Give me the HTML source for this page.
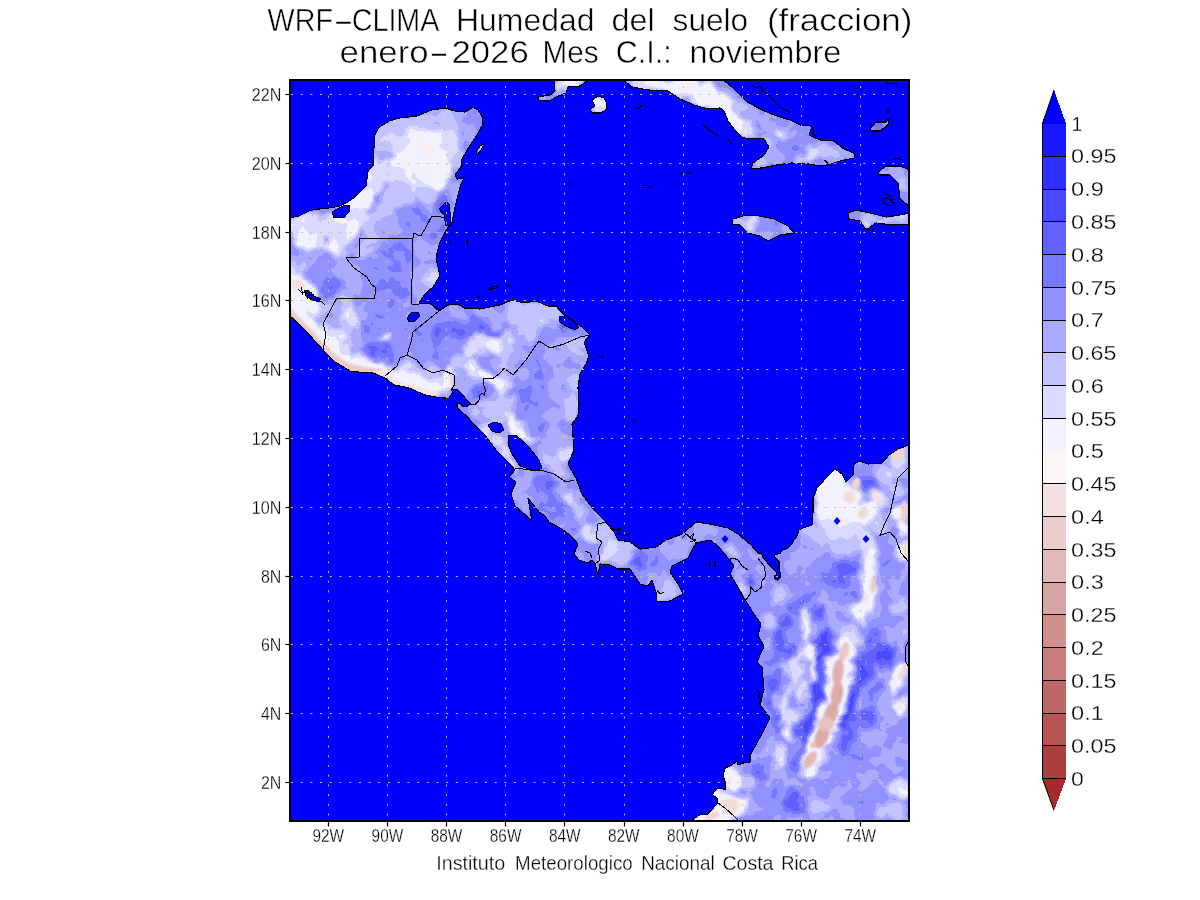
<!DOCTYPE html>
<html lang="es"><head><meta charset="utf-8"><title>WRF-CLIMA Humedad del suelo</title>
<style>
html,body{margin:0;padding:0;background:#fff;}
body{width:1200px;height:900px;overflow:hidden;position:relative;font-family:"Liberation Sans","DejaVu Sans",sans-serif;}
svg{position:absolute;left:0;top:0;display:block}
text{font-family:"Liberation Sans","DejaVu Sans",sans-serif;fill:#000;stroke:#fff;paint-order:fill stroke;}
.t1{font-size:32px;stroke-width:.5px}
.lab{font-size:18.2px;stroke-width:.28px}
.cb{font-size:19.5px;stroke-width:.3px}
.ft{font-size:19.3px;stroke-width:.3px}
</style></head><body>
<svg width="1200" height="900" viewBox="0 0 1200 900">
<defs>
<clipPath id="frame"><rect x="290" y="80" width="619" height="741"/></clipPath>
<clipPath id="land">
<polygon points="289,218 299,216 309,211 315,209.4 329,208 340,206 351,200 359,193 366,186 368,171 373,166 374.6,135 379,127.4 389,121 399,118 417,116 431,110 445,108 455,111 465,112 473,107.4 478,110 482,116 483,124 477,135 469,147 462,159 461,167 455,175 457,179 464,178 461,184 458,195 455,207 452,223 447,229 443,236 439,245 436,258 440,276 433,287 425,294 419,303 431,304 439,311 448,305 458,304 464,308 480,309 500,305 512,300 524,303 536,301 548,306 556,306 564,315 576,323 582,327 590,335 584,342 589,356 586,364 580,374 578,388 579,404 578,416 572,424 573,436 574,450 568,464 576,478 582,494 594,510 606,522 614,532 618,540 630,542 640,549 656,547 666,540 682,534 688,529 696,522 710,524 728,528 738,534 750,544 758.7,553.3 761.3,553 763.3,558 769.3,564.7 774.7,570 776.3,572.7 776.3,575.3 774.7,576 774.7,578.7 777.3,580 780,577.3 780.3,573.3 779,568.7 779,561.3 774.7,557.3 774.7,555 780,553.3 782.7,550 786.7,548.7 792,544 794,539.3 796.7,536.7 799,530 803,528 812,525 813,512 813,499 817,488 826,478 835,469 842,474 846,482 853,475 854,464 860,461 868,464 882,463 889,455 898,449 910,444.5 910,822 689,822 700,814.6 707.5,814 718,803 717,798 712,794.6 716.7,788.75 725.4,789 725.4,783 723,775 725.4,768 731,765.4 737.5,761 738,765 745,762.5 750,762 750,755 753,750 763,732 770,718 759.5,704 764,690 762,667 757,662 764,646 758,636 761,624 754,614 744,598 736,584 730,574 734,566 728,558 718,546 710,540 696,543 688,558 672,566 670,572 678,584 683,594 670,601 657,602 656,592 652,580 648,586 640,584 636,578 630,569 618,569 610,565 600,564 598,575 595,564 592,560 588,563 579,560 574,554 578,544 570,535 560,528 549,522 545,516 539,512 528,498 532,521 522,512 515,506 511,494 516,482 509,477 515,470 510,464 496,450 484,434 479.3,429.3 472.7,423.3 467.3,416.7 458,408.7 456.7,404.7 459.3,402.7 463.3,406.7 468,406 470,403.3 466,399.3 462,394 456.7,389.3 451.5,389.5 452.7,392.7 448.7,398.3 436.7,397.3 430,396 425,395 409,388 394,385 385,378 373,373 351,371.6 335,362 323,350 305,330 289,315"/>
<polygon points="622,79 722,79 732,87 746,101 760,109 774,115 790,120 800,125 812,126 809,135 820,140 834,141 844,149 854,153 855,158 840,161 828,165 820,166 808,164 792,163 776,165 762,168 751,168.6 753,163 764,155 769,147 764,139 743,138 734,129 728,121 724,111 720,108 708,109 694,105 680,99 668,91 648,90 632,87"/>
<polygon points="554,79 555,91 550,95 538,97 538,100 550,101 556,97 566,93 568,87 580,86 590,79"/>
<polygon points="592,100 598,96 604,98 607,104 606,110 600,113 592,113 590,109 595,106"/>
<polygon points="733,219 746,215 760,216 774,219 788,226 794,233 780,235 768,241 760,236 748,233 740,225 732,224"/>
<polygon points="877,173 886,166 900,166 910,170 910,207 900,199 898,183 890,175 880,175"/>
<polygon points="848,213 856,210 870,213 886,217 900,215 910,213 910,224 892,225 876,223 866,230 860,221 849,219"/>
<polygon points="870,129 876,122 886,122 889,118 888,125 880,131 872,131"/>
<polygon points="476,152 480,146 484,144 481,150 478,154"/>
</clipPath>
<filter id="b1" x="-20%" y="-20%" width="140%" height="140%"><feGaussianBlur stdDeviation="1.1"/></filter>
<filter id="post" filterUnits="userSpaceOnUse" x="280" y="70" width="640" height="760" color-interpolation-filters="sRGB"><feGaussianBlur in="SourceGraphic" stdDeviation="2.4" result="bl"/><feTurbulence type="fractalNoise" baseFrequency="0.045" numOctaves="3" seed="11" result="n"/><feDisplacementMap in="bl" in2="n" scale="14" xChannelSelector="R" yChannelSelector="G" result="d"/><feTurbulence type="fractalNoise" baseFrequency="0.075" numOctaves="2" seed="3" result="n2"/><feColorMatrix in="n2" type="matrix" values="1 0 0 0 0  1 0 0 0 0  0 0 0 0 0.5  0 0 0 0 1" result="n3"/><feComposite in="d" in2="n3" operator="arithmetic" k1="0" k2="1" k3="0.17" k4="-0.085" result="dn"/><feComponentTransfer in="dn" result="ct"><feFuncR type="linear" slope="1.18" intercept="-0.135"/><feFuncG type="linear" slope="1.18" intercept="-0.135"/></feComponentTransfer><feComponentTransfer in="ct"><feFuncR type="discrete" tableValues="0.0000 0.0941 0.0941 0.1922 0.1922 0.2863 0.2863 0.3804 0.3804 0.4745 0.4745 0.5725 0.5725 0.6667 0.6667 0.7608 0.7608 0.8588 0.8588 0.9529 0.9529"/><feFuncG type="discrete" tableValues="0.0000 0.0941 0.0941 0.1922 0.1922 0.2863 0.2863 0.3804 0.3804 0.4745 0.4745 0.5725 0.5725 0.6667 0.6667 0.7608 0.7608 0.8588 0.8588 0.9529 0.9529"/></feComponentTransfer></filter>
</defs>
<rect x="290" y="80" width="619" height="741" fill="#0000ff"/>
<g clip-path="url(#frame)">
<g clip-path="url(#land)">
<g filter="url(#post)">
<rect x="280" y="70" width="640" height="760" fill="rgb(158,158,255)"/>
<ellipse cx="423" cy="155" rx="29" ry="40.6" fill="rgb(243,243,255)"/>
<ellipse cx="408" cy="140" rx="14.5" ry="14.5" fill="rgb(243,243,255)"/>
<ellipse cx="435" cy="175" rx="14.5" ry="14.5" fill="rgb(243,243,255)"/>
<ellipse cx="397" cy="140" rx="14.5" ry="14.5" fill="rgb(219,219,255)"/>
<ellipse cx="379" cy="135" rx="8.7" ry="20.3" fill="rgb(194,194,255)"/>
<ellipse cx="373" cy="175" rx="8.7" ry="20.3" fill="rgb(219,219,255)"/>
<ellipse cx="361" cy="199" rx="11.6" ry="11.6" fill="rgb(243,243,255)"/>
<ellipse cx="352" cy="203" rx="8.7" ry="8.7" fill="rgb(243,243,255)"/>
<ellipse cx="405" cy="185" rx="17.4" ry="17.4" fill="rgb(219,219,255)"/>
<ellipse cx="392" cy="170" rx="14.5" ry="14.5" fill="rgb(219,219,255)"/>
<ellipse cx="465" cy="125" rx="11.6" ry="17.4" fill="rgb(170,170,255)"/>
<ellipse cx="474" cy="119" rx="8.7" ry="8.7" fill="rgb(146,146,255)"/>
<ellipse cx="449" cy="141" rx="11.6" ry="11.6" fill="rgb(219,219,255)"/>
<ellipse cx="455" cy="159" rx="10.15" ry="10.15" fill="rgb(194,194,255)"/>
<ellipse cx="447" cy="120" rx="11.6" ry="11.6" fill="rgb(194,194,255)"/>
<ellipse cx="425" cy="122" rx="14.5" ry="8.7" fill="rgb(194,194,255)"/>
<ellipse cx="400" cy="125" rx="11.6" ry="11.6" fill="rgb(194,194,255)"/>
<ellipse cx="425" cy="199" rx="14.5" ry="14.5" fill="rgb(194,194,255)"/>
<ellipse cx="397" cy="195" rx="14.5" ry="14.5" fill="rgb(194,194,255)"/>
<ellipse cx="389" cy="211" rx="11.6" ry="11.6" fill="rgb(194,194,255)"/>
<ellipse cx="413" cy="215" rx="13.05" ry="13.05" fill="rgb(146,146,255)"/>
<ellipse cx="425" cy="221" rx="13.05" ry="13.05" fill="rgb(146,146,255)"/>
<ellipse cx="441" cy="205" rx="8.7" ry="8.7" fill="rgb(121,121,255)"/>
<ellipse cx="436" cy="228" rx="10.15" ry="10.15" fill="rgb(146,146,255)"/>
<ellipse cx="452" cy="215" rx="5.8" ry="14.5" fill="rgb(170,170,255)"/>
<ellipse cx="456" cy="190" rx="5.8" ry="14.5" fill="rgb(170,170,255)"/>
<ellipse cx="305" cy="227" rx="14.5" ry="14.5" fill="rgb(219,219,255)"/>
<ellipse cx="296" cy="225" rx="7.25" ry="7.25" fill="rgb(243,243,255)"/>
<ellipse cx="325" cy="241" rx="10.15" ry="10.15" fill="rgb(146,146,255)"/>
<ellipse cx="345" cy="228" rx="13.05" ry="13.05" fill="rgb(243,243,255)"/>
<ellipse cx="333" cy="222" rx="8.7" ry="8.7" fill="rgb(219,219,255)"/>
<ellipse cx="373" cy="227" rx="14.5" ry="14.5" fill="rgb(194,194,255)"/>
<ellipse cx="358" cy="218" rx="11.6" ry="11.6" fill="rgb(219,219,255)"/>
<ellipse cx="335" cy="247" rx="8.7" ry="8.7" fill="rgb(219,219,255)"/>
<ellipse cx="388" cy="230" rx="11.6" ry="11.6" fill="rgb(170,170,255)"/>
<ellipse cx="301" cy="238" rx="8.7" ry="8.7" fill="rgb(243,243,255)"/>
<ellipse cx="339" cy="250" rx="8.7" ry="8.7" fill="rgb(219,219,255)"/>
<ellipse cx="311" cy="262" rx="13.05" ry="13.05" fill="rgb(170,170,255)"/>
<ellipse cx="331" cy="284" rx="13.05" ry="13.05" fill="rgb(121,121,255)"/>
<ellipse cx="321" cy="274" rx="11.6" ry="11.6" fill="rgb(146,146,255)"/>
<ellipse cx="297" cy="268" rx="10.15" ry="10.15" fill="rgb(194,194,255)"/>
<ellipse cx="346" cy="270" rx="11.6" ry="11.6" fill="rgb(170,170,255)"/>
<ellipse cx="352" cy="285" rx="11.6" ry="11.6" fill="rgb(170,170,255)"/>
<ellipse cx="299" cy="288" rx="13.05" ry="20.3" fill="rgb(243,243,255)" transform="rotate(-40 299 288)"/>
<ellipse cx="310" cy="305" rx="10.15" ry="10.15" fill="rgb(243,243,255)"/>
<ellipse cx="296" cy="300" rx="8.7" ry="8.7" fill="rgb(243,243,255)"/>
<ellipse cx="325" cy="310" rx="10.15" ry="10.15" fill="rgb(194,194,255)"/>
<ellipse cx="310" cy="232" rx="18.85" ry="18.85" fill="rgb(219,219,255)"/>
<ellipse cx="328" cy="236" rx="15.95" ry="15.95" fill="rgb(219,219,255)"/>
<ellipse cx="344" cy="232" rx="13.05" ry="13.05" fill="rgb(219,219,255)"/>
<ellipse cx="300" cy="238" rx="7.25" ry="7.25" fill="rgb(243,243,255)"/>
<ellipse cx="333" cy="246" rx="5.8" ry="5.8" fill="rgb(243,243,255)"/>
<ellipse cx="352" cy="229" rx="7.25" ry="7.25" fill="rgb(243,243,255)"/>
<ellipse cx="324" cy="241" rx="3.625" ry="3.625" fill="rgb(170,170,255)"/>
<ellipse cx="302" cy="296" rx="14.5" ry="24.65" fill="rgb(243,243,255)" transform="rotate(-35 302 296)"/>
<ellipse cx="297" cy="312" rx="10.15" ry="10.15" fill="rgb(243,243,255)"/>
<ellipse cx="306" cy="318" rx="7.25" ry="7.25" fill="rgb(219,219,255)"/>
<ellipse cx="369" cy="250" rx="10.15" ry="10.15" fill="rgb(194,194,255)"/>
<ellipse cx="393" cy="260" rx="13.05" ry="13.05" fill="rgb(121,121,255)"/>
<ellipse cx="397" cy="286" rx="11.6" ry="11.6" fill="rgb(121,121,255)"/>
<ellipse cx="381" cy="270" rx="13.05" ry="13.05" fill="rgb(146,146,255)"/>
<ellipse cx="404" cy="250" rx="11.6" ry="11.6" fill="rgb(146,146,255)"/>
<ellipse cx="385" cy="292" rx="11.6" ry="11.6" fill="rgb(146,146,255)"/>
<ellipse cx="405" cy="275" rx="11.6" ry="11.6" fill="rgb(146,146,255)"/>
<ellipse cx="425" cy="250" rx="11.6" ry="11.6" fill="rgb(170,170,255)"/>
<ellipse cx="431" cy="280" rx="7.25" ry="13.05" fill="rgb(219,219,255)"/>
<ellipse cx="422" cy="270" rx="10.15" ry="10.15" fill="rgb(170,170,255)"/>
<ellipse cx="430" cy="232" rx="8.7" ry="8.7" fill="rgb(146,146,255)"/>
<ellipse cx="420" cy="290" rx="8.7" ry="8.7" fill="rgb(170,170,255)"/>
<ellipse cx="345" cy="306" rx="10.15" ry="10.15" fill="rgb(194,194,255)"/>
<ellipse cx="351" cy="322" rx="11.6" ry="11.6" fill="rgb(219,219,255)"/>
<ellipse cx="375" cy="324" rx="13.05" ry="13.05" fill="rgb(146,146,255)"/>
<ellipse cx="381" cy="306" rx="11.6" ry="11.6" fill="rgb(146,146,255)"/>
<ellipse cx="365" cy="312" rx="10.15" ry="10.15" fill="rgb(170,170,255)"/>
<ellipse cx="373" cy="350" rx="13.05" ry="8.7" fill="rgb(121,121,255)"/>
<ellipse cx="385" cy="352" rx="10.15" ry="10.15" fill="rgb(121,121,255)"/>
<ellipse cx="385" cy="339" rx="5.8" ry="5.8" fill="rgb(219,219,255)"/>
<ellipse cx="345" cy="342" rx="11.6" ry="11.6" fill="rgb(194,194,255)"/>
<ellipse cx="358" cy="338" rx="10.15" ry="10.15" fill="rgb(170,170,255)"/>
<ellipse cx="331" cy="318" rx="8.7" ry="8.7" fill="rgb(170,170,255)"/>
<ellipse cx="335" cy="336" rx="7.25" ry="7.25" fill="rgb(219,219,255)"/>
<ellipse cx="397" cy="324" rx="11.6" ry="11.6" fill="rgb(146,146,255)"/>
<ellipse cx="405" cy="314" rx="8.7" ry="8.7" fill="rgb(170,170,255)"/>
<ellipse cx="398" cy="345" rx="8.7" ry="8.7" fill="rgb(146,146,255)"/>
<ellipse cx="360" cy="360" rx="8.7" ry="8.7" fill="rgb(194,194,255)"/>
<ellipse cx="325" cy="330" rx="7.25" ry="7.25" fill="rgb(219,219,255)"/>
<ellipse cx="312" cy="318" rx="7.25" ry="7.25" fill="rgb(219,219,255)"/>
<ellipse cx="405" cy="368" rx="8.7" ry="8.7" fill="rgb(219,219,255)"/>
<ellipse cx="425" cy="382" rx="11.6" ry="11.6" fill="rgb(219,219,255)"/>
<ellipse cx="413" cy="374" rx="8.7" ry="8.7" fill="rgb(194,194,255)"/>
<ellipse cx="440" cy="384" rx="8.7" ry="8.7" fill="rgb(219,219,255)"/>
<ellipse cx="449" cy="380" rx="7.25" ry="11.6" fill="rgb(243,243,255)"/>
<ellipse cx="430" cy="372" rx="7.25" ry="7.25" fill="rgb(194,194,255)"/>
<ellipse cx="395" cy="374" rx="5.8" ry="5.8" fill="rgb(219,219,255)"/>
<ellipse cx="425" cy="326" rx="11.6" ry="11.6" fill="rgb(146,146,255)"/>
<ellipse cx="441" cy="334" rx="11.6" ry="11.6" fill="rgb(121,121,255)"/>
<ellipse cx="457" cy="326" rx="11.6" ry="11.6" fill="rgb(121,121,255)"/>
<ellipse cx="472" cy="328" rx="11.6" ry="11.6" fill="rgb(121,121,255)"/>
<ellipse cx="488" cy="329" rx="11.6" ry="11.6" fill="rgb(121,121,255)"/>
<ellipse cx="465" cy="314" rx="8.7" ry="8.7" fill="rgb(170,170,255)"/>
<ellipse cx="485" cy="312" rx="8.7" ry="8.7" fill="rgb(170,170,255)"/>
<ellipse cx="450" cy="312" rx="7.25" ry="7.25" fill="rgb(170,170,255)"/>
<ellipse cx="437" cy="354" rx="11.6" ry="11.6" fill="rgb(146,146,255)"/>
<ellipse cx="465" cy="356" rx="8.7" ry="8.7" fill="rgb(146,146,255)"/>
<ellipse cx="452" cy="346" rx="10.15" ry="10.15" fill="rgb(146,146,255)"/>
<ellipse cx="456" cy="362" rx="8.7" ry="8.7" fill="rgb(194,194,255)"/>
<ellipse cx="480" cy="344" rx="13.05" ry="8.7" fill="rgb(219,219,255)"/>
<ellipse cx="496" cy="346" rx="8.7" ry="8.7" fill="rgb(243,243,255)"/>
<ellipse cx="470" cy="352" rx="8.7" ry="8.7" fill="rgb(219,219,255)"/>
<ellipse cx="506" cy="358" rx="10.15" ry="10.15" fill="rgb(194,194,255)"/>
<ellipse cx="505" cy="340" rx="10.15" ry="10.15" fill="rgb(194,194,255)"/>
<ellipse cx="495" cy="320" rx="10.15" ry="10.15" fill="rgb(170,170,255)"/>
<ellipse cx="515" cy="314" rx="11.6" ry="11.6" fill="rgb(194,194,255)"/>
<ellipse cx="530" cy="316" rx="14.5" ry="14.5" fill="rgb(194,194,255)"/>
<ellipse cx="545" cy="322" rx="11.6" ry="11.6" fill="rgb(194,194,255)"/>
<ellipse cx="552" cy="312" rx="8.7" ry="8.7" fill="rgb(194,194,255)"/>
<ellipse cx="530" cy="330" rx="11.6" ry="11.6" fill="rgb(194,194,255)"/>
<ellipse cx="544" cy="333" rx="7.25" ry="7.25" fill="rgb(146,146,255)"/>
<ellipse cx="564" cy="322" rx="7.25" ry="7.25" fill="rgb(121,121,255)"/>
<ellipse cx="574" cy="330" rx="7.25" ry="7.25" fill="rgb(146,146,255)"/>
<ellipse cx="473" cy="370" rx="8.7" ry="8.7" fill="rgb(219,219,255)"/>
<ellipse cx="485" cy="375" rx="5.8" ry="5.8" fill="rgb(243,243,255)"/>
<ellipse cx="470" cy="385" rx="8.7" ry="8.7" fill="rgb(170,170,255)"/>
<ellipse cx="505" cy="378" rx="8.7" ry="8.7" fill="rgb(194,194,255)"/>
<ellipse cx="520" cy="352" rx="10.15" ry="10.15" fill="rgb(170,170,255)"/>
<ellipse cx="515" cy="366" rx="7.25" ry="7.25" fill="rgb(170,170,255)"/>
<ellipse cx="550" cy="360" rx="14.5" ry="14.5" fill="rgb(170,170,255)"/>
<ellipse cx="566" cy="352" rx="11.6" ry="11.6" fill="rgb(170,170,255)"/>
<ellipse cx="580" cy="348" rx="8.7" ry="8.7" fill="rgb(194,194,255)"/>
<ellipse cx="532" cy="382" rx="20.3" ry="26.1" fill="rgb(146,146,255)"/>
<ellipse cx="545" cy="392" rx="11.6" ry="11.6" fill="rgb(146,146,255)"/>
<ellipse cx="520" cy="375" rx="8.7" ry="8.7" fill="rgb(170,170,255)"/>
<ellipse cx="564" cy="372" rx="11.6" ry="11.6" fill="rgb(170,170,255)"/>
<ellipse cx="574" cy="385" rx="7.25" ry="14.5" fill="rgb(194,194,255)"/>
<ellipse cx="560" cy="392" rx="11.6" ry="11.6" fill="rgb(170,170,255)"/>
<ellipse cx="570" cy="406" rx="8.7" ry="17.4" fill="rgb(194,194,255)"/>
<ellipse cx="552" cy="420" rx="13.05" ry="13.05" fill="rgb(170,170,255)"/>
<ellipse cx="526" cy="408" rx="11.6" ry="11.6" fill="rgb(146,146,255)"/>
<ellipse cx="544" cy="428" rx="8.7" ry="8.7" fill="rgb(146,146,255)"/>
<ellipse cx="566" cy="430" rx="8.7" ry="8.7" fill="rgb(146,146,255)"/>
<ellipse cx="560" cy="445" rx="11.6" ry="11.6" fill="rgb(170,170,255)"/>
<ellipse cx="570" cy="455" rx="8.7" ry="8.7" fill="rgb(170,170,255)"/>
<ellipse cx="500" cy="384" rx="8.7" ry="8.7" fill="rgb(219,219,255)"/>
<ellipse cx="492" cy="380" rx="5.8" ry="5.8" fill="rgb(243,243,255)"/>
<ellipse cx="476" cy="393" rx="7.25" ry="7.25" fill="rgb(121,121,255)"/>
<ellipse cx="506" cy="404" rx="10.15" ry="10.15" fill="rgb(194,194,255)"/>
<ellipse cx="490" cy="408" rx="10.15" ry="10.15" fill="rgb(194,194,255)"/>
<ellipse cx="478" cy="410" rx="7.25" ry="7.25" fill="rgb(194,194,255)"/>
<ellipse cx="520" cy="428" rx="5.8" ry="20.3" fill="rgb(243,243,255)" transform="rotate(-48 520 428)"/>
<ellipse cx="512" cy="421" rx="5.8" ry="5.8" fill="rgb(243,243,255)"/>
<ellipse cx="530" cy="435" rx="5.8" ry="5.8" fill="rgb(243,243,255)"/>
<ellipse cx="486" cy="430" rx="7.25" ry="7.25" fill="rgb(219,219,255)"/>
<ellipse cx="498" cy="420" rx="7.25" ry="7.25" fill="rgb(194,194,255)"/>
<ellipse cx="536" cy="430" rx="8.7" ry="8.7" fill="rgb(146,146,255)"/>
<ellipse cx="554" cy="436" rx="8.7" ry="8.7" fill="rgb(170,170,255)"/>
<ellipse cx="564" cy="452" rx="8.7" ry="8.7" fill="rgb(219,219,255)"/>
<ellipse cx="550" cy="456" rx="10.15" ry="10.15" fill="rgb(194,194,255)"/>
<ellipse cx="558" cy="470" rx="8.7" ry="8.7" fill="rgb(194,194,255)"/>
<ellipse cx="545" cy="445" rx="8.7" ry="8.7" fill="rgb(170,170,255)"/>
<ellipse cx="496" cy="442" rx="7.25" ry="7.25" fill="rgb(219,219,255)"/>
<ellipse cx="504" cy="454" rx="7.25" ry="7.25" fill="rgb(219,219,255)"/>
<ellipse cx="512" cy="466" rx="5.8" ry="5.8" fill="rgb(219,219,255)"/>
<ellipse cx="526" cy="480" rx="10.15" ry="10.15" fill="rgb(170,170,255)"/>
<ellipse cx="546" cy="484" rx="10.15" ry="10.15" fill="rgb(121,121,255)"/>
<ellipse cx="520" cy="496" rx="8.7" ry="8.7" fill="rgb(170,170,255)"/>
<ellipse cx="516" cy="488" rx="7.25" ry="7.25" fill="rgb(170,170,255)"/>
<ellipse cx="558" cy="502" rx="10.15" ry="10.15" fill="rgb(121,121,255)"/>
<ellipse cx="570" cy="500" rx="7.25" ry="7.25" fill="rgb(219,219,255)"/>
<ellipse cx="580" cy="512" rx="7.25" ry="7.25" fill="rgb(194,194,255)"/>
<ellipse cx="570" cy="524" rx="8.7" ry="8.7" fill="rgb(146,146,255)"/>
<ellipse cx="556" cy="515" rx="8.7" ry="8.7" fill="rgb(146,146,255)"/>
<ellipse cx="536" cy="492" rx="8.7" ry="8.7" fill="rgb(146,146,255)"/>
<ellipse cx="590" cy="532" rx="8.7" ry="8.7" fill="rgb(219,219,255)"/>
<ellipse cx="582" cy="544" rx="7.25" ry="7.25" fill="rgb(146,146,255)"/>
<ellipse cx="524" cy="508" rx="7.25" ry="7.25" fill="rgb(170,170,255)"/>
<ellipse cx="562" cy="490" rx="8.7" ry="8.7" fill="rgb(170,170,255)"/>
<ellipse cx="545" cy="505" rx="8.7" ry="8.7" fill="rgb(146,146,255)"/>
<ellipse cx="580" cy="555" rx="5.8" ry="5.8" fill="rgb(170,170,255)"/>
<ellipse cx="600" cy="528" rx="7.25" ry="7.25" fill="rgb(194,194,255)"/>
<ellipse cx="606" cy="534" rx="8.7" ry="8.7" fill="rgb(194,194,255)"/>
<ellipse cx="610" cy="550" rx="8.7" ry="8.7" fill="rgb(219,219,255)"/>
<ellipse cx="606" cy="558" rx="5.8" ry="5.8" fill="rgb(219,219,255)"/>
<ellipse cx="626" cy="552" rx="10.15" ry="10.15" fill="rgb(194,194,255)"/>
<ellipse cx="618" cy="560" rx="7.25" ry="7.25" fill="rgb(194,194,255)"/>
<ellipse cx="642" cy="560" rx="11.6" ry="8.7" fill="rgb(121,121,255)"/>
<ellipse cx="655" cy="562" rx="10.15" ry="10.15" fill="rgb(146,146,255)"/>
<ellipse cx="670" cy="550" rx="11.6" ry="11.6" fill="rgb(170,170,255)"/>
<ellipse cx="658" cy="576" rx="8.7" ry="8.7" fill="rgb(170,170,255)"/>
<ellipse cx="670" cy="590" rx="10.15" ry="10.15" fill="rgb(194,194,255)"/>
<ellipse cx="660" cy="596" rx="7.25" ry="7.25" fill="rgb(194,194,255)"/>
<ellipse cx="680" cy="580" rx="7.25" ry="7.25" fill="rgb(170,170,255)"/>
<ellipse cx="684" cy="545" rx="7.25" ry="7.25" fill="rgb(170,170,255)"/>
<ellipse cx="700" cy="532" rx="8.7" ry="8.7" fill="rgb(170,170,255)"/>
<ellipse cx="712" cy="532" rx="7.25" ry="7.25" fill="rgb(170,170,255)"/>
<ellipse cx="722" cy="538" rx="5.8" ry="5.8" fill="rgb(146,146,255)"/>
<ellipse cx="734" cy="550" rx="7.25" ry="7.25" fill="rgb(194,194,255)"/>
<ellipse cx="746" cy="566" rx="8.7" ry="8.7" fill="rgb(146,146,255)"/>
<ellipse cx="750" cy="580" rx="5.8" ry="5.8" fill="rgb(121,121,255)"/>
<ellipse cx="742" cy="588" rx="7.25" ry="7.25" fill="rgb(194,194,255)"/>
<ellipse cx="758" cy="572" rx="7.25" ry="7.25" fill="rgb(170,170,255)"/>
<ellipse cx="740" cy="575" rx="7.25" ry="7.25" fill="rgb(170,170,255)"/>
<ellipse cx="831" cy="490" rx="17.4" ry="17.4" fill="rgb(243,243,255)"/>
<ellipse cx="826" cy="513" rx="13.05" ry="13.05" fill="rgb(243,243,255)"/>
<ellipse cx="845" cy="520" rx="14.5" ry="14.5" fill="rgb(243,243,255)"/>
<ellipse cx="852" cy="532" rx="11.6" ry="11.6" fill="rgb(219,219,255)"/>
<ellipse cx="831" cy="530" rx="11.6" ry="11.6" fill="rgb(219,219,255)"/>
<ellipse cx="840" cy="478" rx="8.7" ry="8.7" fill="rgb(243,243,255)"/>
<ellipse cx="822" cy="500" rx="8.7" ry="8.7" fill="rgb(243,243,255)"/>
<ellipse cx="870" cy="478" rx="13.05" ry="13.05" fill="rgb(121,121,255)"/>
<ellipse cx="866" cy="470" rx="7.25" ry="7.25" fill="rgb(146,146,255)"/>
<ellipse cx="880" cy="470" rx="8.7" ry="8.7" fill="rgb(170,170,255)"/>
<ellipse cx="887" cy="476" rx="8.7" ry="8.7" fill="rgb(194,194,255)"/>
<ellipse cx="896" cy="490" rx="8.7" ry="8.7" fill="rgb(194,194,255)"/>
<ellipse cx="887" cy="502" rx="8.7" ry="8.7" fill="rgb(170,170,255)"/>
<ellipse cx="882" cy="523" rx="10.15" ry="10.15" fill="rgb(194,194,255)"/>
<ellipse cx="875" cy="510" rx="7.25" ry="7.25" fill="rgb(194,194,255)"/>
<ellipse cx="849" cy="497" rx="11.6" ry="11.6" fill="rgb(243,243,255)"/>
<ellipse cx="863" cy="513" rx="11.6" ry="11.6" fill="rgb(243,243,255)"/>
<ellipse cx="877" cy="497" rx="8.7" ry="8.7" fill="rgb(219,219,255)"/>
<ellipse cx="898" cy="455" rx="11.6" ry="11.6" fill="rgb(219,219,255)"/>
<ellipse cx="901" cy="513" rx="8.7" ry="8.7" fill="rgb(243,243,255)"/>
<ellipse cx="903" cy="551" rx="7.25" ry="7.25" fill="rgb(243,243,255)"/>
<ellipse cx="905" cy="530" rx="7.25" ry="7.25" fill="rgb(243,243,255)"/>
<ellipse cx="900" cy="470" rx="7.25" ry="7.25" fill="rgb(194,194,255)"/>
<ellipse cx="805" cy="541" rx="10.15" ry="10.15" fill="rgb(170,170,255)"/>
<ellipse cx="817" cy="551" rx="10.15" ry="10.15" fill="rgb(170,170,255)"/>
<ellipse cx="840" cy="546" rx="11.6" ry="11.6" fill="rgb(194,194,255)"/>
<ellipse cx="868" cy="551" rx="11.6" ry="11.6" fill="rgb(146,146,255)"/>
<ellipse cx="855" cy="545" rx="8.7" ry="8.7" fill="rgb(194,194,255)"/>
<ellipse cx="820" cy="536" rx="8.7" ry="8.7" fill="rgb(194,194,255)"/>
<ellipse cx="830" cy="526" rx="8.7" ry="8.7" fill="rgb(219,219,255)"/>
<ellipse cx="812" cy="530" rx="7.25" ry="7.25" fill="rgb(194,194,255)"/>
<ellipse cx="790" cy="560" rx="11.6" ry="11.6" fill="rgb(146,146,255)"/>
<ellipse cx="782" cy="575" rx="8.7" ry="8.7" fill="rgb(146,146,255)"/>
<ellipse cx="810" cy="560" rx="11.6" ry="11.6" fill="rgb(170,170,255)"/>
<ellipse cx="840" cy="572" rx="20.3" ry="14.5" fill="rgb(121,121,255)"/>
<ellipse cx="826" cy="566" rx="11.6" ry="11.6" fill="rgb(146,146,255)"/>
<ellipse cx="855" cy="585" rx="11.6" ry="11.6" fill="rgb(146,146,255)"/>
<ellipse cx="817" cy="572" rx="11.6" ry="11.6" fill="rgb(146,146,255)"/>
<ellipse cx="793" cy="565" rx="10.15" ry="10.15" fill="rgb(170,170,255)"/>
<ellipse cx="805" cy="597" rx="11.6" ry="11.6" fill="rgb(146,146,255)"/>
<ellipse cx="826" cy="607" rx="8.7" ry="8.7" fill="rgb(194,194,255)"/>
<ellipse cx="849" cy="598" rx="10.15" ry="10.15" fill="rgb(146,146,255)"/>
<ellipse cx="870" cy="569" rx="7.25" ry="13.05" fill="rgb(243,243,255)"/>
<ellipse cx="868" cy="602" rx="7.25" ry="13.05" fill="rgb(243,243,255)"/>
<ellipse cx="872" cy="585" rx="7.25" ry="7.25" fill="rgb(243,243,255)"/>
<ellipse cx="887" cy="565" rx="10.15" ry="10.15" fill="rgb(146,146,255)"/>
<ellipse cx="891" cy="588" rx="10.15" ry="10.15" fill="rgb(170,170,255)"/>
<ellipse cx="901" cy="607" rx="8.7" ry="8.7" fill="rgb(194,194,255)"/>
<ellipse cx="900" cy="575" rx="7.25" ry="7.25" fill="rgb(170,170,255)"/>
<ellipse cx="880" cy="610" rx="7.25" ry="7.25" fill="rgb(170,170,255)"/>
<ellipse cx="780" cy="596" rx="8.7" ry="8.7" fill="rgb(194,194,255)"/>
<ellipse cx="800" cy="608" rx="8.7" ry="8.7" fill="rgb(121,121,255)"/>
<ellipse cx="770" cy="620" rx="8.7" ry="8.7" fill="rgb(194,194,255)"/>
<ellipse cx="786" cy="624" rx="8.7" ry="8.7" fill="rgb(121,121,255)"/>
<ellipse cx="807" cy="625" rx="4.35" ry="17.4" fill="rgb(243,243,255)"/>
<ellipse cx="822" cy="612" rx="8.7" ry="8.7" fill="rgb(121,121,255)"/>
<ellipse cx="834" cy="620" rx="8.7" ry="8.7" fill="rgb(170,170,255)"/>
<ellipse cx="860" cy="614" rx="7.25" ry="11.6" fill="rgb(243,243,255)"/>
<ellipse cx="846" cy="630" rx="7.25" ry="7.25" fill="rgb(194,194,255)"/>
<ellipse cx="810" cy="652" rx="5.8" ry="8.7" fill="rgb(243,243,255)"/>
<ellipse cx="790" cy="652" rx="8.7" ry="8.7" fill="rgb(121,121,255)"/>
<ellipse cx="774" cy="644" rx="8.7" ry="8.7" fill="rgb(170,170,255)"/>
<ellipse cx="770" cy="660" rx="8.7" ry="8.7" fill="rgb(146,146,255)"/>
<ellipse cx="812" cy="671" rx="4.35" ry="11.6" fill="rgb(243,243,255)"/>
<ellipse cx="803" cy="690" rx="5.8" ry="11.6" fill="rgb(219,219,255)"/>
<ellipse cx="793" cy="718" rx="5.8" ry="11.6" fill="rgb(219,219,255)"/>
<ellipse cx="789" cy="734" rx="4.35" ry="8.7" fill="rgb(243,243,255)"/>
<ellipse cx="780" cy="757" rx="5.8" ry="11.6" fill="rgb(219,219,255)"/>
<ellipse cx="770" cy="680" rx="8.7" ry="8.7" fill="rgb(121,121,255)"/>
<ellipse cx="784" cy="672" rx="7.25" ry="7.25" fill="rgb(194,194,255)"/>
<ellipse cx="774" cy="700" rx="7.25" ry="7.25" fill="rgb(194,194,255)"/>
<ellipse cx="790" cy="700" rx="7.25" ry="7.25" fill="rgb(121,121,255)"/>
<ellipse cx="778" cy="720" rx="8.7" ry="8.7" fill="rgb(121,121,255)"/>
<ellipse cx="768" cy="740" rx="7.25" ry="7.25" fill="rgb(170,170,255)"/>
<ellipse cx="800" cy="730" rx="8.7" ry="8.7" fill="rgb(121,121,255)"/>
<ellipse cx="805" cy="710" rx="7.25" ry="7.25" fill="rgb(170,170,255)"/>
<ellipse cx="815" cy="690" rx="8.7" ry="8.7" fill="rgb(121,121,255)"/>
<ellipse cx="822" cy="670" rx="8.7" ry="8.7" fill="rgb(146,146,255)"/>
<ellipse cx="826" cy="650" rx="8.7" ry="8.7" fill="rgb(121,121,255)"/>
<ellipse cx="846" cy="648" rx="10.15" ry="10.15" fill="rgb(243,243,255)"/>
<ellipse cx="838" cy="667" rx="13.05" ry="13.05" fill="rgb(243,243,255)"/>
<ellipse cx="838" cy="690" rx="14.5" ry="14.5" fill="rgb(243,243,255)"/>
<ellipse cx="831" cy="713" rx="14.5" ry="14.5" fill="rgb(243,243,255)"/>
<ellipse cx="821" cy="737" rx="13.05" ry="13.05" fill="rgb(243,243,255)"/>
<ellipse cx="807" cy="767" rx="10.15" ry="10.15" fill="rgb(243,243,255)"/>
<ellipse cx="814" cy="752" rx="10.15" ry="10.15" fill="rgb(243,243,255)"/>
<ellipse cx="852" cy="638" rx="8.7" ry="8.7" fill="rgb(219,219,255)"/>
<ellipse cx="863" cy="667" rx="10.15" ry="10.15" fill="rgb(121,121,255)"/>
<ellipse cx="887" cy="655" rx="11.6" ry="11.6" fill="rgb(97,97,255)"/>
<ellipse cx="877" cy="690" rx="10.15" ry="10.15" fill="rgb(146,146,255)"/>
<ellipse cx="863" cy="718" rx="10.15" ry="10.15" fill="rgb(121,121,255)"/>
<ellipse cx="849" cy="722" rx="8.7" ry="8.7" fill="rgb(97,97,255)"/>
<ellipse cx="872" cy="640" rx="8.7" ry="8.7" fill="rgb(170,170,255)"/>
<ellipse cx="860" cy="650" rx="7.25" ry="7.25" fill="rgb(146,146,255)"/>
<ellipse cx="855" cy="700" rx="7.25" ry="7.25" fill="rgb(170,170,255)"/>
<ellipse cx="875" cy="705" rx="8.7" ry="8.7" fill="rgb(146,146,255)"/>
<ellipse cx="850" cy="742" rx="8.7" ry="8.7" fill="rgb(146,146,255)"/>
<ellipse cx="898" cy="680" rx="7.25" ry="17.4" fill="rgb(243,243,255)" transform="rotate(30 898 680)"/>
<ellipse cx="904" cy="668" rx="5.8" ry="5.8" fill="rgb(243,243,255)"/>
<ellipse cx="901" cy="706" rx="7.25" ry="7.25" fill="rgb(243,243,255)"/>
<ellipse cx="892" cy="692" rx="5.8" ry="5.8" fill="rgb(219,219,255)"/>
<ellipse cx="895" cy="640" rx="8.7" ry="8.7" fill="rgb(170,170,255)"/>
<ellipse cx="903" cy="630" rx="5.8" ry="5.8" fill="rgb(194,194,255)"/>
<ellipse cx="890" cy="720" rx="8.7" ry="8.7" fill="rgb(170,170,255)"/>
<ellipse cx="875" cy="737" rx="11.6" ry="11.6" fill="rgb(170,170,255)"/>
<ellipse cx="887" cy="760" rx="11.6" ry="11.6" fill="rgb(170,170,255)"/>
<ellipse cx="852" cy="760" rx="11.6" ry="11.6" fill="rgb(146,146,255)"/>
<ellipse cx="840" cy="783" rx="11.6" ry="11.6" fill="rgb(170,170,255)"/>
<ellipse cx="863" cy="802" rx="11.6" ry="11.6" fill="rgb(146,146,255)"/>
<ellipse cx="901" cy="788" rx="10.15" ry="10.15" fill="rgb(219,219,255)"/>
<ellipse cx="895" cy="810" rx="8.7" ry="8.7" fill="rgb(194,194,255)"/>
<ellipse cx="817" cy="807" rx="10.15" ry="10.15" fill="rgb(194,194,255)"/>
<ellipse cx="793" cy="802" rx="10.15" ry="10.15" fill="rgb(121,121,255)"/>
<ellipse cx="835" cy="805" rx="8.7" ry="8.7" fill="rgb(170,170,255)"/>
<ellipse cx="758" cy="772" rx="8.7" ry="8.7" fill="rgb(121,121,255)"/>
<ellipse cx="747" cy="783" rx="8.7" ry="8.7" fill="rgb(194,194,255)"/>
<ellipse cx="730" cy="779" rx="10.15" ry="10.15" fill="rgb(243,243,255)"/>
<ellipse cx="735" cy="807" rx="13.05" ry="13.05" fill="rgb(243,243,255)"/>
<ellipse cx="722" cy="800" rx="8.7" ry="8.7" fill="rgb(243,243,255)"/>
<ellipse cx="710" cy="816" rx="8.7" ry="8.7" fill="rgb(243,243,255)"/>
<ellipse cx="754" cy="807" rx="8.7" ry="8.7" fill="rgb(170,170,255)"/>
<ellipse cx="770" cy="793" rx="10.15" ry="10.15" fill="rgb(146,146,255)"/>
<ellipse cx="789" cy="783" rx="8.7" ry="8.7" fill="rgb(170,170,255)"/>
<ellipse cx="775" cy="775" rx="7.25" ry="7.25" fill="rgb(170,170,255)"/>
<ellipse cx="830" cy="770" rx="8.7" ry="8.7" fill="rgb(170,170,255)"/>
<ellipse cx="870" cy="780" rx="8.7" ry="8.7" fill="rgb(170,170,255)"/>
<ellipse cx="905" cy="750" rx="8.7" ry="8.7" fill="rgb(170,170,255)"/>
<ellipse cx="880" cy="815" rx="7.25" ry="7.25" fill="rgb(194,194,255)"/>
<ellipse cx="850" cy="815" rx="7.25" ry="7.25" fill="rgb(170,170,255)"/>
<ellipse cx="810" cy="790" rx="7.25" ry="7.25" fill="rgb(170,170,255)"/>
<ellipse cx="765" cy="815" rx="7.25" ry="7.25" fill="rgb(146,146,255)"/>
<ellipse cx="800" cy="770" rx="5.8" ry="5.8" fill="rgb(194,194,255)"/>
<ellipse cx="765" cy="755" rx="5.8" ry="5.8" fill="rgb(194,194,255)"/>
<ellipse cx="823" cy="648" rx="5.8" ry="23.2" fill="rgb(97,97,255)" transform="rotate(15 823 648)"/>
<ellipse cx="817" cy="688" rx="5.8" ry="23.2" fill="rgb(97,97,255)" transform="rotate(15 817 688)"/>
<ellipse cx="808" cy="728" rx="5.8" ry="20.3" fill="rgb(97,97,255)" transform="rotate(20 808 728)"/>
<ellipse cx="797" cy="760" rx="5.8" ry="14.5" fill="rgb(121,121,255)" transform="rotate(25 797 760)"/>
<ellipse cx="857" cy="688" rx="5.8" ry="29" fill="rgb(97,97,255)" transform="rotate(15 857 688)"/>
<ellipse cx="849" cy="735" rx="5.8" ry="23.2" fill="rgb(121,121,255)" transform="rotate(20 849 735)"/>
<ellipse cx="871" cy="648" rx="7.25" ry="23.2" fill="rgb(121,121,255)" transform="rotate(10 871 648)"/>
<ellipse cx="838" cy="775" rx="7.25" ry="14.5" fill="rgb(146,146,255)" transform="rotate(30 838 775)"/>
<ellipse cx="779" cy="640" rx="5.075" ry="20.3" fill="rgb(121,121,255)" transform="rotate(10 779 640)"/>
<ellipse cx="773" cy="690" rx="5.075" ry="23.2" fill="rgb(121,121,255)" transform="rotate(10 773 690)"/>
<ellipse cx="781" cy="722" rx="4.35" ry="14.5" fill="rgb(121,121,255)" transform="rotate(20 781 722)"/>
<ellipse cx="796" cy="668" rx="4.35" ry="23.2" fill="rgb(219,219,255)" transform="rotate(12 796 668)"/>
<ellipse cx="787" cy="706" rx="4.35" ry="20.3" fill="rgb(219,219,255)" transform="rotate(15 787 706)"/>
<ellipse cx="869" cy="560" rx="5.8" ry="29" fill="rgb(243,243,255)" transform="rotate(5 869 560)"/>
<ellipse cx="872" cy="596" rx="5.8" ry="20.3" fill="rgb(243,243,255)" transform="rotate(5 872 596)"/>
<ellipse cx="866" cy="540" rx="7.25" ry="11.6" fill="rgb(219,219,255)"/>
<ellipse cx="884" cy="700" rx="5.8" ry="17.4" fill="rgb(170,170,255)" transform="rotate(25 884 700)"/>
<ellipse cx="712" cy="796" rx="7.25" ry="7.25" fill="rgb(243,243,255)"/>
<ellipse cx="702" cy="818" rx="8.7" ry="8.7" fill="rgb(243,243,255)"/>
<ellipse cx="722" cy="813" rx="10.15" ry="10.15" fill="rgb(243,243,255)"/>
<ellipse cx="716" cy="806" rx="7.25" ry="7.25" fill="rgb(243,243,255)"/>
<ellipse cx="650" cy="84" rx="17.4" ry="7.25" fill="rgb(243,243,255)"/>
<ellipse cx="680" cy="88" rx="17.4" ry="8.7" fill="rgb(243,243,255)"/>
<ellipse cx="705" cy="95" rx="14.5" ry="14.5" fill="rgb(243,243,255)"/>
<ellipse cx="722" cy="105" rx="11.6" ry="11.6" fill="rgb(243,243,255)"/>
<ellipse cx="730" cy="118" rx="8.7" ry="8.7" fill="rgb(243,243,255)"/>
<ellipse cx="738" cy="128" rx="8.7" ry="8.7" fill="rgb(243,243,255)"/>
<ellipse cx="636" cy="84" rx="7.25" ry="7.25" fill="rgb(219,219,255)"/>
<ellipse cx="740" cy="108" rx="8.7" ry="8.7" fill="rgb(194,194,255)"/>
<ellipse cx="752" cy="115" rx="8.7" ry="8.7" fill="rgb(170,170,255)"/>
<ellipse cx="748" cy="130" rx="7.25" ry="7.25" fill="rgb(219,219,255)"/>
<ellipse cx="762" cy="125" rx="8.7" ry="8.7" fill="rgb(170,170,255)"/>
<ellipse cx="775" cy="128" rx="10.15" ry="10.15" fill="rgb(170,170,255)"/>
<ellipse cx="790" cy="132" rx="10.15" ry="10.15" fill="rgb(170,170,255)"/>
<ellipse cx="780" cy="134" rx="4.35" ry="4.35" fill="rgb(243,243,255)"/>
<ellipse cx="768" cy="145" rx="7.25" ry="7.25" fill="rgb(194,194,255)"/>
<ellipse cx="760" cy="160" rx="7.25" ry="7.25" fill="rgb(194,194,255)"/>
<ellipse cx="775" cy="155" rx="8.7" ry="8.7" fill="rgb(170,170,255)"/>
<ellipse cx="795" cy="148" rx="10.15" ry="10.15" fill="rgb(146,146,255)"/>
<ellipse cx="805" cy="140" rx="7.25" ry="7.25" fill="rgb(146,146,255)"/>
<ellipse cx="812" cy="155" rx="7.25" ry="7.25" fill="rgb(219,219,255)"/>
<ellipse cx="825" cy="150" rx="8.7" ry="8.7" fill="rgb(194,194,255)"/>
<ellipse cx="838" cy="152" rx="7.25" ry="7.25" fill="rgb(194,194,255)"/>
<ellipse cx="848" cy="155" rx="5.8" ry="5.8" fill="rgb(170,170,255)"/>
<ellipse cx="800" cy="160" rx="5.8" ry="5.8" fill="rgb(194,194,255)"/>
<ellipse cx="600" cy="104" rx="10.15" ry="10.15" fill="rgb(243,243,255)"/>
<ellipse cx="597" cy="110" rx="4.35" ry="4.35" fill="rgb(194,194,255)"/>
<ellipse cx="560" cy="86" rx="7.25" ry="7.25" fill="rgb(219,219,255)"/>
<ellipse cx="572" cy="84" rx="7.25" ry="7.25" fill="rgb(243,243,255)"/>
<ellipse cx="550" cy="97" rx="5.8" ry="5.8" fill="rgb(146,146,255)"/>
<ellipse cx="740" cy="221" rx="7.25" ry="7.25" fill="rgb(194,194,255)"/>
<ellipse cx="752" cy="222" rx="8.7" ry="8.7" fill="rgb(219,219,255)"/>
<ellipse cx="765" cy="225" rx="8.7" ry="8.7" fill="rgb(146,146,255)"/>
<ellipse cx="778" cy="228" rx="7.25" ry="7.25" fill="rgb(146,146,255)"/>
<ellipse cx="788" cy="230" rx="5.8" ry="5.8" fill="rgb(170,170,255)"/>
<ellipse cx="760" cy="236" rx="5.8" ry="5.8" fill="rgb(170,170,255)"/>
<ellipse cx="885" cy="170" rx="7.25" ry="7.25" fill="rgb(170,170,255)"/>
<ellipse cx="898" cy="172" rx="8.7" ry="8.7" fill="rgb(170,170,255)"/>
<ellipse cx="903" cy="185" rx="7.25" ry="7.25" fill="rgb(194,194,255)"/>
<ellipse cx="905" cy="198" rx="5.8" ry="5.8" fill="rgb(146,146,255)"/>
<ellipse cx="856" cy="214" rx="7.25" ry="7.25" fill="rgb(146,146,255)"/>
<ellipse cx="870" cy="216" rx="7.25" ry="7.25" fill="rgb(194,194,255)"/>
<ellipse cx="885" cy="220" rx="7.25" ry="7.25" fill="rgb(194,194,255)"/>
<ellipse cx="900" cy="218" rx="7.25" ry="7.25" fill="rgb(194,194,255)"/>
<ellipse cx="866" cy="225" rx="4.35" ry="4.35" fill="rgb(219,219,255)"/>
<ellipse cx="880" cy="126" rx="7.25" ry="7.25" fill="rgb(146,146,255)"/>
<ellipse cx="480" cy="148" rx="5.8" ry="5.8" fill="rgb(194,194,255)"/>
<polyline points="291,306 300,316 311,327 323,340 335,352 349,361 364,365 380,367 392,375 404,380 418,383 432,388" fill="none" stroke="rgb(243,243,255)" stroke-width="13" stroke-linecap="round" stroke-linejoin="round"/>
</g>
<g filter="url(#b1)">
<ellipse cx="428" cy="150" rx="6" ry="5" fill="#fbeeee"/>
<ellipse cx="417" cy="142" rx="3" ry="3" fill="#fbeeee"/>
<ellipse cx="424" cy="170" rx="2" ry="3" fill="#fbeeee"/>
<ellipse cx="296" cy="286" rx="5" ry="8" fill="#f8e6e4" transform="rotate(-40 296 286)"/>
<ellipse cx="451" cy="380" rx="2" ry="6" fill="#f4dcd8"/>
<ellipse cx="300" cy="284" rx="4" ry="6" fill="#f6dfdc" transform="rotate(-40 300 284)"/>
<ellipse cx="849" cy="497" rx="6" ry="6" fill="#f2dcd8"/>
<ellipse cx="856" cy="484" rx="4" ry="7" fill="#f0d6d2" transform="rotate(20 856 484)"/>
<ellipse cx="863" cy="513" rx="6" ry="5" fill="#f2dcd8" transform="rotate(-40 863 513)"/>
<ellipse cx="877" cy="497" rx="4" ry="6" fill="#f4e2df" transform="rotate(-30 877 497)"/>
<ellipse cx="898" cy="454" rx="7" ry="6" fill="#f0d4d0" transform="rotate(-30 898 454)"/>
<ellipse cx="843" cy="522" rx="5" ry="4" fill="#f8eae8"/>
<ellipse cx="904" cy="512" rx="3" ry="12" fill="#eed0cc"/>
<ellipse cx="906" cy="548" rx="3" ry="8" fill="#f0d6d2"/>
<ellipse cx="873" cy="585" rx="2.5" ry="9" fill="#ecccc8" transform="rotate(5 873 585)"/>
<ellipse cx="866" cy="598" rx="2" ry="5" fill="#f4e0dd"/>
<ellipse cx="844" cy="652" rx="4.5" ry="10" fill="#e9c6c3" transform="rotate(18 844 652)"/>
<ellipse cx="838" cy="672" rx="5.5" ry="13" fill="#deb0ae" transform="rotate(8 838 672)"/>
<ellipse cx="837" cy="694" rx="6" ry="13" fill="#dcaaa8" transform="rotate(8 837 694)"/>
<ellipse cx="831" cy="714" rx="6.5" ry="13" fill="#dcaaa8" transform="rotate(18 831 714)"/>
<ellipse cx="822" cy="736" rx="6.5" ry="13" fill="#dcaaa8" transform="rotate(22 822 736)"/>
<ellipse cx="810" cy="760" rx="5" ry="10" fill="#e2b8b5" transform="rotate(35 810 760)"/>
<ellipse cx="826" cy="724" rx="8" ry="7" fill="#e6c2c0"/>
<ellipse cx="812" cy="650" rx="2" ry="4" fill="#f6e4e2"/>
<ellipse cx="813" cy="745" rx="3" ry="3" fill="#e6c0be"/>
<ellipse cx="903" cy="672" rx="3" ry="9" fill="#f2dad6" transform="rotate(30 903 672)"/>
<ellipse cx="899" cy="706" rx="3" ry="5" fill="#f6e6e4"/>
<ellipse cx="728" cy="780" rx="5" ry="6" fill="#f8ece9"/>
<ellipse cx="730" cy="806" rx="9" ry="8" fill="#f2dcd8"/>
<ellipse cx="712" cy="816" rx="8" ry="4" fill="#f0d6d2" transform="rotate(-20 712 816)"/>
<ellipse cx="690" cy="82" rx="10" ry="3" fill="#fbeeee" transform="rotate(5 690 82)"/>
<polyline points="289,311 297,320 308,331 320,344 332,356 346,366 362,370 378,372" fill="none" stroke="#ecc9c3" stroke-width="6.5" stroke-linecap="round" stroke-linejoin="round"/>
<polyline points="378,372 388,378 398,384 412,387 426,392 438,394" fill="none" stroke="#f5e0dc" stroke-width="4" stroke-linecap="round" stroke-linejoin="round"/>
</g>
</g>
<polygon points="332,212 334,218 344,217.4 350,211 349,205 343,206 337,209" fill="#0000ff"/>
<polygon points="446,202 439,209 444,215 446,226 450,225 450,212 449,204" fill="#0000ff"/>
<polygon points="407,318 411,313 418,312 420,316 415,321 409,322" fill="#0000ff"/>
<polygon points="488,425 494,422 501,424 504,430 499,433 492,431" fill="#0000ff"/>
<polygon points="508,436 516,435 528,446 539,460 542,468 536,471 520,466 512,454 508,444" fill="#0000ff"/>
<polygon points="559,317 566,316 574,321 579,327 575,330 566,326 560,322" fill="#0000ff"/>
<polygon points="304,290 309,291 314,296 321,299 320,302 312,300 306,296" fill="#0000ff"/>
<polygon points="725,535 728.5,539 725,543 721.5,539" fill="#0000ff"/>
<polygon points="837,517 840.5,521 837,525 833.5,521" fill="#0000ff"/>
<polygon points="866,535 869.5,539 866,543 862.5,539" fill="#0000ff"/>
<g fill="none" stroke="#000" stroke-width="1.15" stroke-linejoin="round" shape-rendering="crispEdges">
<polygon points="289,218 299,216 309,211 315,209.4 329,208 340,206 351,200 359,193 366,186 368,171 373,166 374.6,135 379,127.4 389,121 399,118 417,116 431,110 445,108 455,111 465,112 473,107.4 478,110 482,116 483,124 477,135 469,147 462,159 461,167 455,175 457,179 464,178 461,184 458,195 455,207 452,223 447,229 443,236 439,245 436,258 440,276 433,287 425,294 419,303 431,304 439,311 448,305 458,304 464,308 480,309 500,305 512,300 524,303 536,301 548,306 556,306 564,315 576,323 582,327 590,335 584,342 589,356 586,364 580,374 578,388 579,404 578,416 572,424 573,436 574,450 568,464 576,478 582,494 594,510 606,522 614,532 618,540 630,542 640,549 656,547 666,540 682,534 688,529 696,522 710,524 728,528 738,534 750,544 758.7,553.3 761.3,553 763.3,558 769.3,564.7 774.7,570 776.3,572.7 776.3,575.3 774.7,576 774.7,578.7 777.3,580 780,577.3 780.3,573.3 779,568.7 779,561.3 774.7,557.3 774.7,555 780,553.3 782.7,550 786.7,548.7 792,544 794,539.3 796.7,536.7 799,530 803,528 812,525 813,512 813,499 817,488 826,478 835,469 842,474 846,482 853,475 854,464 860,461 868,464 882,463 889,455 898,449 910,444.5 910,822 689,822 700,814.6 707.5,814 718,803 717,798 712,794.6 716.7,788.75 725.4,789 725.4,783 723,775 725.4,768 731,765.4 737.5,761 738,765 745,762.5 750,762 750,755 753,750 763,732 770,718 759.5,704 764,690 762,667 757,662 764,646 758,636 761,624 754,614 744,598 736,584 730,574 734,566 728,558 718,546 710,540 696,543 688,558 672,566 670,572 678,584 683,594 670,601 657,602 656,592 652,580 648,586 640,584 636,578 630,569 618,569 610,565 600,564 598,575 595,564 592,560 588,563 579,560 574,554 578,544 570,535 560,528 549,522 545,516 539,512 528,498 532,521 522,512 515,506 511,494 516,482 509,477 515,470 510,464 496,450 484,434 479.3,429.3 472.7,423.3 467.3,416.7 458,408.7 456.7,404.7 459.3,402.7 463.3,406.7 468,406 470,403.3 466,399.3 462,394 456.7,389.3 451.5,389.5 452.7,392.7 448.7,398.3 436.7,397.3 430,396 425,395 409,388 394,385 385,378 373,373 351,371.6 335,362 323,350 305,330 289,315"/>
<polygon points="622,79 722,79 732,87 746,101 760,109 774,115 790,120 800,125 812,126 809,135 820,140 834,141 844,149 854,153 855,158 840,161 828,165 820,166 808,164 792,163 776,165 762,168 751,168.6 753,163 764,155 769,147 764,139 743,138 734,129 728,121 724,111 720,108 708,109 694,105 680,99 668,91 648,90 632,87"/>
<polygon points="554,79 555,91 550,95 538,97 538,100 550,101 556,97 566,93 568,87 580,86 590,79"/>
<polygon points="592,100 598,96 604,98 607,104 606,110 600,113 592,113 590,109 595,106"/>
<polygon points="733,219 746,215 760,216 774,219 788,226 794,233 780,235 768,241 760,236 748,233 740,225 732,224"/>
<polygon points="877,173 886,166 900,166 910,170 910,207 900,199 898,183 890,175 880,175"/>
<polygon points="848,213 856,210 870,213 886,217 900,215 910,213 910,224 892,225 876,223 866,230 860,221 849,219"/>
<polygon points="870,129 876,122 886,122 889,118 888,125 880,131 872,131"/>
<polygon points="476,152 480,146 484,144 481,150 478,154"/>
<polygon points="882,199 888,198 896,205 890,206 884,203"/>
<polygon points="332,212 334,218 344,217.4 350,211 349,205 343,206 337,209" stroke-width="1"/>
<polygon points="446,202 439,209 444,215 446,226 450,225 450,212 449,204" stroke-width="1"/>
<polygon points="407,318 411,313 418,312 420,316 415,321 409,322" stroke-width="1"/>
<polygon points="488,425 494,422 501,424 504,430 499,433 492,431" stroke-width="1"/>
<polygon points="508,436 516,435 528,446 539,460 542,468 536,471 520,466 512,454 508,444" stroke-width="1"/>
<polygon points="559,317 566,316 574,321 579,327 575,330 566,326 560,322" stroke-width="1"/>
<polygon points="304,290 309,291 314,296 321,299 320,302 312,300 306,296" stroke-width="1"/>
<polyline points="359,238.4 413,238.4" stroke-width="1"/>
<polyline points="359,238.4 359,257.4 346,258 354,268 367,277 371,284 376,288 374.6,298.4 336.6,298.4 323,324 326,334 323,350" stroke-width="1"/>
<polyline points="413,238.4 413,233 421,236 432,216 445,217.4" stroke-width="1"/>
<polyline points="413,238.4 411.4,304 419,304.4" stroke-width="1"/>
<polyline points="439,311 413,332 411,342 407,355" stroke-width="1"/>
<polyline points="407,355 400,358 397,366 385,376" stroke-width="1"/>
<polyline points="407,355 417,360 423,368 433,373 443,370 454,375 455,384 451,390" stroke-width="1"/>
<polyline points="468,404.7 475.3,404.3 479.3,400 479.3,395.3 482,393.3 484.7,395.3 485.3,390 483.3,383.3 483.3,378 493.3,378.3 500.7,372.7 504,368 513,375 526,360 534,348 539,341 550,348 564,344 580,337 590,335" stroke-width="1"/>
<polyline points="515,468 530,470 544,471 554,474 566,482 574,480" stroke-width="1"/>
<polyline points="606,522 598,524 596,538 602,542 598,550 600,560 595,564" stroke-width="1"/>
<polyline points="758,558 764,566 766,576 761,582 762,587 755,592 750,586 750,594 746,600" stroke-width="1"/>
<polyline points="909,467 898,478 894,495 890,513 884,525 880,535.5 890,532 896,539 901,553 909,562" stroke-width="1"/>
<polyline points="718,803 725,808 731.7,814 738,820" stroke-width="1"/>
<polyline points="909,640 905,648 905,660 909,668" stroke-width="1"/>
<polyline points="488,290 492,287 499,286 496,288 488,290" stroke-width="1"/>
<polyline points="506,286 510,284 508,286" stroke-width="1"/>
<polyline points="477,297 480,296 479,298 477,297" stroke-width="1"/>
<polyline points="637,108 642,105 640,108 637,108" stroke-width="1"/>
<polyline points="642,185 651,185 651,187 642,188 643,186" stroke-width="1"/>
<polyline points="680,174 683,172 681,175" stroke-width="1"/>
<polyline points="686,173 690,172 690,174" stroke-width="1"/>
<polyline points="702,124 708,129 714,133 719,137" stroke-width="1"/>
<polyline points="727,139 730,141" stroke-width="1"/>
<polyline points="729,142 732,144" stroke-width="1"/>
<polyline points="601,355 603,357 601,357 601,355" stroke-width="1"/>
<polyline points="642,391 644,393" stroke-width="1"/>
<polyline points="632,419 634,421 633,423" stroke-width="1"/>
<polyline points="709,561 710,567" stroke-width="1"/>
<polyline points="714,561 716,563 715,567 714,562" stroke-width="1"/>
<polyline points="466,242 468,239 467,246" stroke-width="1"/>
<polyline points="449,241 451,245" stroke-width="1"/>
<polyline points="451,236 453,232" stroke-width="1"/>
<polyline points="298,289 302,293 306,292 309,296 313,294 316,299 320,300 325,305" stroke-width="1"/>
<polyline points="301,287 303,295" stroke-width="1"/>
<polyline points="307,290 308,299" stroke-width="1"/>
<polyline points="312,292 311,300" stroke-width="1"/>
<polyline points="682,538 686,534 690,537 694,533 692,539 696,540 690,542" stroke-width="1"/>
<polyline points="684,532 688,536 693,540 697,544" stroke-width="1"/>
<polyline points="728,560 733,558 738,560 742,566 748,570" stroke-width="1"/>
<polyline points="611,528 616,530 621,528 618,533 624,536 628,534 630,540" stroke-width="1"/>
<polyline points="585,551 590,553 592,558" stroke-width="1"/>
<polyline points="657,590 660,594 664,592" stroke-width="1"/>
<polyline points="757,690 760,693 758,697 762,701 759,705" stroke-width="1"/>
<polyline points="752,85 756,88 760,86 764,92 770,96 775,102 780,107" stroke-width="1"/>
<polyline points="780,107 786,110 790,113" stroke-width="1"/>
<polyline points="810,126 814,130 812,134 816,136" stroke-width="1"/>
<polyline points="824,160 828,163 826,166" stroke-width="1"/>
<polyline points="884,193 890,196 894,200" stroke-width="1"/>
<polyline points="862,84 858,88 854,89" stroke-width="1"/>
<polyline points="886,82 892,84 898,83" stroke-width="1"/>
<polyline points="888,109 890,111 888,113 886,111 888,109" stroke-width="1"/>
<polyline points="893,160 898,158 902,160" stroke-width="1"/>
<polyline points="866,228 870,231 874,229" stroke-width="1"/>
</g>
<g stroke="#cdc396" stroke-width="1" stroke-dasharray="2 7.7" fill="none">
<line x1="328.5" y1="86" x2="328.5" y2="820"/>
<line x1="387.5" y1="86" x2="387.5" y2="820"/>
<line x1="446.5" y1="86" x2="446.5" y2="820"/>
<line x1="505.5" y1="86" x2="505.5" y2="820"/>
<line x1="564.5" y1="86" x2="564.5" y2="820"/>
<line x1="624.5" y1="86" x2="624.5" y2="820"/>
<line x1="683.5" y1="86" x2="683.5" y2="820"/>
<line x1="742.5" y1="86" x2="742.5" y2="820"/>
<line x1="801.5" y1="86" x2="801.5" y2="820"/>
<line x1="860.5" y1="86" x2="860.5" y2="820"/>
<line x1="291" y1="782.5" x2="908" y2="782.5"/>
<line x1="291" y1="713.5" x2="908" y2="713.5"/>
<line x1="291" y1="644.5" x2="908" y2="644.5"/>
<line x1="291" y1="576.5" x2="908" y2="576.5"/>
<line x1="291" y1="507.5" x2="908" y2="507.5"/>
<line x1="291" y1="438.5" x2="908" y2="438.5"/>
<line x1="291" y1="369.5" x2="908" y2="369.5"/>
<line x1="291" y1="300.5" x2="908" y2="300.5"/>
<line x1="291" y1="232.5" x2="908" y2="232.5"/>
<line x1="291" y1="163.5" x2="908" y2="163.5"/>
<line x1="291" y1="94.5" x2="908" y2="94.5"/>
</g>
</g>
<rect x="290" y="80" width="619" height="741" fill="none" stroke="#000" stroke-width="2"/>
<g stroke="#000" stroke-width="1.2">
<line x1="328.5" y1="822" x2="328.5" y2="826.5"/>
<line x1="387.5" y1="822" x2="387.5" y2="826.5"/>
<line x1="446.5" y1="822" x2="446.5" y2="826.5"/>
<line x1="505.5" y1="822" x2="505.5" y2="826.5"/>
<line x1="564.5" y1="822" x2="564.5" y2="826.5"/>
<line x1="624.5" y1="822" x2="624.5" y2="826.5"/>
<line x1="683.5" y1="822" x2="683.5" y2="826.5"/>
<line x1="742.5" y1="822" x2="742.5" y2="826.5"/>
<line x1="801.5" y1="822" x2="801.5" y2="826.5"/>
<line x1="860.5" y1="822" x2="860.5" y2="826.5"/>
<line x1="285.5" y1="782.5" x2="289" y2="782.5"/>
<line x1="285.5" y1="713.5" x2="289" y2="713.5"/>
<line x1="285.5" y1="644.5" x2="289" y2="644.5"/>
<line x1="285.5" y1="576.5" x2="289" y2="576.5"/>
<line x1="285.5" y1="507.5" x2="289" y2="507.5"/>
<line x1="285.5" y1="438.5" x2="289" y2="438.5"/>
<line x1="285.5" y1="369.5" x2="289" y2="369.5"/>
<line x1="285.5" y1="300.5" x2="289" y2="300.5"/>
<line x1="285.5" y1="232.5" x2="289" y2="232.5"/>
<line x1="285.5" y1="163.5" x2="289" y2="163.5"/>
<line x1="285.5" y1="94.5" x2="289" y2="94.5"/>
</g>
<text class="lab" x="312.5" y="842" textLength="31.6" lengthAdjust="spacingAndGlyphs">92W</text>
<text class="lab" x="371.6" y="842" textLength="31.6" lengthAdjust="spacingAndGlyphs">90W</text>
<text class="lab" x="430.7" y="842" textLength="31.6" lengthAdjust="spacingAndGlyphs">88W</text>
<text class="lab" x="489.8" y="842" textLength="31.6" lengthAdjust="spacingAndGlyphs">86W</text>
<text class="lab" x="548.9" y="842" textLength="31.6" lengthAdjust="spacingAndGlyphs">84W</text>
<text class="lab" x="608" y="842" textLength="31.6" lengthAdjust="spacingAndGlyphs">82W</text>
<text class="lab" x="667.1" y="842" textLength="31.6" lengthAdjust="spacingAndGlyphs">80W</text>
<text class="lab" x="726.2" y="842" textLength="31.6" lengthAdjust="spacingAndGlyphs">78W</text>
<text class="lab" x="785.3" y="842" textLength="31.6" lengthAdjust="spacingAndGlyphs">76W</text>
<text class="lab" x="844.4" y="842" textLength="31.6" lengthAdjust="spacingAndGlyphs">74W</text>
<text class="lab" x="260.9" y="789" textLength="20.4" lengthAdjust="spacingAndGlyphs">2N</text>
<text class="lab" x="260.9" y="720.2" textLength="20.4" lengthAdjust="spacingAndGlyphs">4N</text>
<text class="lab" x="260.9" y="651.4" textLength="20.4" lengthAdjust="spacingAndGlyphs">6N</text>
<text class="lab" x="260.9" y="582.6" textLength="20.4" lengthAdjust="spacingAndGlyphs">8N</text>
<text class="lab" x="251.7" y="513.8" textLength="29.6" lengthAdjust="spacingAndGlyphs">10N</text>
<text class="lab" x="251.7" y="445" textLength="29.6" lengthAdjust="spacingAndGlyphs">12N</text>
<text class="lab" x="251.7" y="376.2" textLength="29.6" lengthAdjust="spacingAndGlyphs">14N</text>
<text class="lab" x="251.7" y="307.4" textLength="29.6" lengthAdjust="spacingAndGlyphs">16N</text>
<text class="lab" x="251.7" y="238.6" textLength="29.6" lengthAdjust="spacingAndGlyphs">18N</text>
<text class="lab" x="251.7" y="169.8" textLength="29.6" lengthAdjust="spacingAndGlyphs">20N</text>
<text class="lab" x="251.7" y="101" textLength="29.6" lengthAdjust="spacingAndGlyphs">22N</text>
<text class="t1" x="267.6" y="31" textLength="171.8" lengthAdjust="spacingAndGlyphs">WRF<tspan textLength="21" lengthAdjust="spacingAndGlyphs">-</tspan>CLIMA</text>
<text class="t1" x="456" y="31" textLength="138.4" lengthAdjust="spacingAndGlyphs">Humedad</text>
<text class="t1" x="611.6" y="31" textLength="43.1" lengthAdjust="spacingAndGlyphs">del</text>
<text class="t1" x="672.6" y="31" textLength="75.6" lengthAdjust="spacingAndGlyphs">suelo</text>
<text class="t1" x="766.9" y="31" textLength="145.5" lengthAdjust="spacingAndGlyphs">(fraccion)</text>
<text class="t1" x="339.6" y="63" textLength="189.2" lengthAdjust="spacingAndGlyphs">enero<tspan textLength="21" lengthAdjust="spacingAndGlyphs">-</tspan>2026</text>
<text class="t1" x="542.5" y="63" textLength="56.1" lengthAdjust="spacingAndGlyphs">Mes</text>
<text class="t1" x="615.8" y="63" textLength="56" lengthAdjust="spacingAndGlyphs">C.I.:</text>
<text class="t1" x="689.6" y="63" textLength="151.8" lengthAdjust="spacingAndGlyphs">noviembre</text>
<text class="ft" x="436.2" y="870" textLength="69.1" lengthAdjust="spacingAndGlyphs">Instituto</text>
<text class="ft" x="515.1" y="870" textLength="117.6" lengthAdjust="spacingAndGlyphs">Meteorologico</text>
<text class="ft" x="641.2" y="870" textLength="73.5" lengthAdjust="spacingAndGlyphs">Nacional</text>
<text class="ft" x="722.4" y="870" textLength="51.1" lengthAdjust="spacingAndGlyphs">Costa</text>
<text class="ft" x="781.2" y="870" textLength="36.7" lengthAdjust="spacingAndGlyphs">Rica</text>
<g shape-rendering="crispEdges">
<polygon points="1042,778.7 1066,778.7 1054,810.5" fill="rgb(165,42,42)"/>
<rect x="1042" y="745.94" width="24" height="33.06" fill="rgb(174,62,62)"/>
<rect x="1042" y="713.18" width="24" height="33.06" fill="rgb(182,83,83)"/>
<rect x="1042" y="680.42" width="24" height="33.06" fill="rgb(191,103,103)"/>
<rect x="1042" y="647.66" width="24" height="33.06" fill="rgb(199,123,123)"/>
<rect x="1042" y="614.9" width="24" height="33.06" fill="rgb(208,143,143)"/>
<rect x="1042" y="582.14" width="24" height="33.06" fill="rgb(216,164,164)"/>
<rect x="1042" y="549.38" width="24" height="33.06" fill="rgb(225,184,184)"/>
<rect x="1042" y="516.62" width="24" height="33.06" fill="rgb(234,204,204)"/>
<rect x="1042" y="483.86" width="24" height="33.06" fill="rgb(242,225,225)"/>
<rect x="1042" y="451.1" width="24" height="33.06" fill="rgb(251,245,245)"/>
<rect x="1042" y="418.34" width="24" height="33.06" fill="rgb(243,243,255)"/>
<rect x="1042" y="385.58" width="24" height="33.06" fill="rgb(219,219,255)"/>
<rect x="1042" y="352.82" width="24" height="33.06" fill="rgb(194,194,255)"/>
<rect x="1042" y="320.06" width="24" height="33.06" fill="rgb(170,170,255)"/>
<rect x="1042" y="287.3" width="24" height="33.06" fill="rgb(146,146,255)"/>
<rect x="1042" y="254.54" width="24" height="33.06" fill="rgb(121,121,255)"/>
<rect x="1042" y="221.78" width="24" height="33.06" fill="rgb(97,97,255)"/>
<rect x="1042" y="189.02" width="24" height="33.06" fill="rgb(73,73,255)"/>
<rect x="1042" y="156.26" width="24" height="33.06" fill="rgb(49,49,255)"/>
<rect x="1042" y="123.5" width="24" height="33.06" fill="rgb(24,24,255)"/>
<polygon points="1042,123.5 1066,123.5 1054,90" fill="rgb(0,0,255)"/>
</g>
<g stroke="#000" stroke-width="1" fill="none">
<polyline points="1054,90 1042.5,123.5 1042.5,778.7 1054,810.5"/>
<line x1="1042" y1="778.5" x2="1066" y2="778.5"/>
<line x1="1042" y1="745.5" x2="1066" y2="745.5"/>
<line x1="1042" y1="713.5" x2="1066" y2="713.5"/>
<line x1="1042" y1="680.5" x2="1066" y2="680.5"/>
<line x1="1042" y1="647.5" x2="1066" y2="647.5"/>
<line x1="1042" y1="614.5" x2="1066" y2="614.5"/>
<line x1="1042" y1="582.5" x2="1066" y2="582.5"/>
<line x1="1042" y1="549.5" x2="1066" y2="549.5"/>
<line x1="1042" y1="516.5" x2="1066" y2="516.5"/>
<line x1="1042" y1="483.5" x2="1066" y2="483.5"/>
<line x1="1042" y1="418.5" x2="1066" y2="418.5"/>
<line x1="1042" y1="385.5" x2="1066" y2="385.5"/>
<line x1="1042" y1="352.5" x2="1066" y2="352.5"/>
<line x1="1042" y1="320.5" x2="1066" y2="320.5"/>
<line x1="1042" y1="287.5" x2="1066" y2="287.5"/>
<line x1="1042" y1="254.5" x2="1066" y2="254.5"/>
<line x1="1042" y1="221.5" x2="1066" y2="221.5"/>
<line x1="1042" y1="189.5" x2="1066" y2="189.5"/>
<line x1="1042" y1="156.5" x2="1066" y2="156.5"/>
</g>
<text class="cb" x="1071.1" y="785.9" textLength="12.8" lengthAdjust="spacingAndGlyphs">0</text>
<text class="cb" x="1071.1" y="753.14" textLength="45.4" lengthAdjust="spacingAndGlyphs">0.05</text>
<text class="cb" x="1071.1" y="720.38" textLength="32.8" lengthAdjust="spacingAndGlyphs">0.1</text>
<text class="cb" x="1071.1" y="687.62" textLength="45.4" lengthAdjust="spacingAndGlyphs">0.15</text>
<text class="cb" x="1071.1" y="654.86" textLength="32.8" lengthAdjust="spacingAndGlyphs">0.2</text>
<text class="cb" x="1071.1" y="622.1" textLength="45.4" lengthAdjust="spacingAndGlyphs">0.25</text>
<text class="cb" x="1071.1" y="589.34" textLength="32.8" lengthAdjust="spacingAndGlyphs">0.3</text>
<text class="cb" x="1071.1" y="556.58" textLength="45.4" lengthAdjust="spacingAndGlyphs">0.35</text>
<text class="cb" x="1071.1" y="523.82" textLength="32.8" lengthAdjust="spacingAndGlyphs">0.4</text>
<text class="cb" x="1071.1" y="491.06" textLength="45.4" lengthAdjust="spacingAndGlyphs">0.45</text>
<text class="cb" x="1071.1" y="458.3" textLength="32.8" lengthAdjust="spacingAndGlyphs">0.5</text>
<text class="cb" x="1071.1" y="425.54" textLength="45.4" lengthAdjust="spacingAndGlyphs">0.55</text>
<text class="cb" x="1071.1" y="392.78" textLength="32.8" lengthAdjust="spacingAndGlyphs">0.6</text>
<text class="cb" x="1071.1" y="360.02" textLength="45.4" lengthAdjust="spacingAndGlyphs">0.65</text>
<text class="cb" x="1071.1" y="327.26" textLength="32.8" lengthAdjust="spacingAndGlyphs">0.7</text>
<text class="cb" x="1071.1" y="294.5" textLength="45.4" lengthAdjust="spacingAndGlyphs">0.75</text>
<text class="cb" x="1071.1" y="261.74" textLength="32.8" lengthAdjust="spacingAndGlyphs">0.8</text>
<text class="cb" x="1071.1" y="228.98" textLength="45.4" lengthAdjust="spacingAndGlyphs">0.85</text>
<text class="cb" x="1071.1" y="196.22" textLength="32.8" lengthAdjust="spacingAndGlyphs">0.9</text>
<text class="cb" x="1071.1" y="163.46" textLength="45.4" lengthAdjust="spacingAndGlyphs">0.95</text>
<text class="cb" x="1071.5" y="130.7">1</text>
</svg>
</body></html>
